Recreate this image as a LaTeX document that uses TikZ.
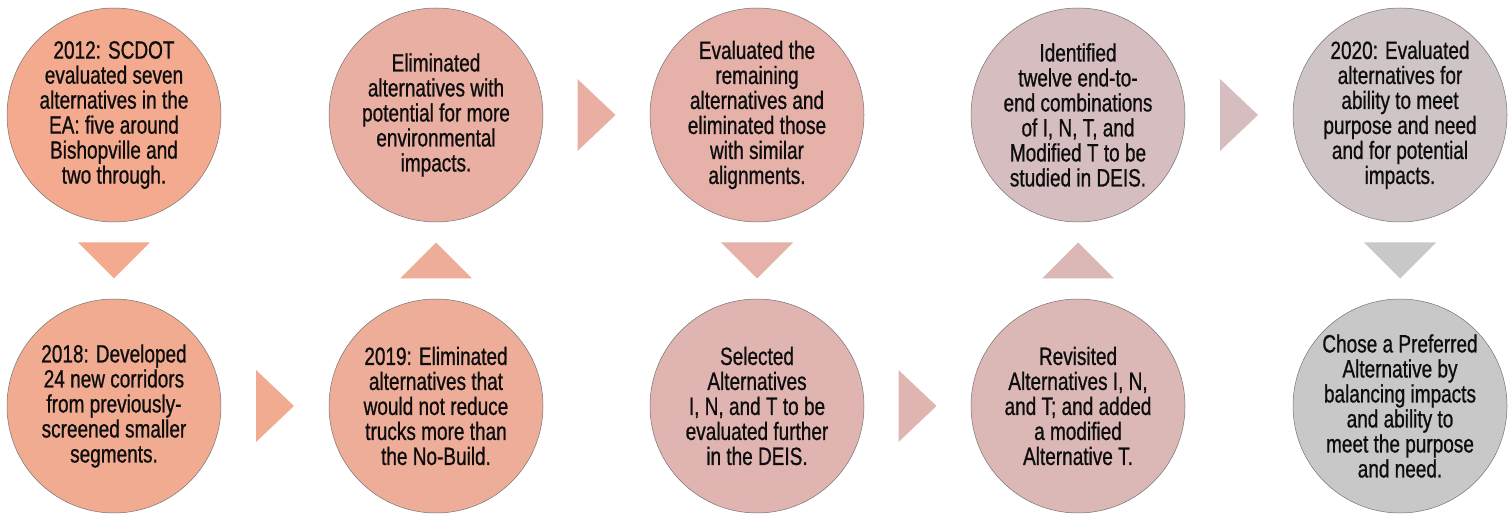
\documentclass[tikz,border=0pt]{standalone}
\usepackage{fontspec}
\setmainfont{Liberation Sans}[FakeStretch=0.76,FakeBold=0.8]
\usepackage{tikz}
\usetikzlibrary{calc}

\definecolor{c1}{HTML}{F3AA8E}
\definecolor{c2}{HTML}{F1AB91}
\definecolor{c3}{HTML}{EEAD98}
\definecolor{c4}{HTML}{E9AFA2}
\definecolor{c5}{HTML}{E5B1A9}
\definecolor{c6}{HTML}{E0B4B0}
\definecolor{c7}{HTML}{DBB7B6}
\definecolor{c8}{HTML}{D6BDBF}
\definecolor{c9}{HTML}{D0C5C6}
\definecolor{c10}{HTML}{C8C8C8}

\begin{document}
\begin{tikzpicture}[x=1pt,y=1pt,every node/.style={circle, draw=black!55, line width=0.5pt, minimum size=214pt, inner sep=0pt, align=center, text=black!95, font=\fontsize{25}{25}\selectfont}]
\useasboundingbox (0,0) rectangle (1509,514);

\node[fill=c1] (s1) at (114,399) {2012: SCDOT\\evaluated seven\\alternatives in the\\EA: five around\\Bishopville and\\two through.};
\node[fill=c2] (s2) at (114,108) {2018: Developed\\24 new corridors\\from previously-\\screened smaller\\segments.};
\node[fill=c3] (s3) at (436,108) {2019: Eliminated\\alternatives that\\would not reduce\\trucks more than\\the No-Build.};
\node[fill=c4] (s4) at (436,399) {Eliminated\\alternatives with\\potential for more\\environmental\\impacts.};
\node[fill=c5] (s5) at (757,399) {Evaluated the\\remaining\\alternatives and\\eliminated those\\with similar\\alignments.};
\node[fill=c6] (s6) at (757,108) {Selected\\Alternatives\\I, N, and T to be\\evaluated further\\in the DEIS.};
\node[fill=c7] (s7) at (1078,108) {Revisited\\Alternatives I, N,\\and T; and added\\a modified\\Alternative T.};
\node[fill=c8] (s8) at (1078,399) {Identified\\twelve end-to-\\end combinations\\of I, N, T, and\\Modified T to be\\studied in DEIS.};
\node[fill=c9] (s9) at (1400,399) {2020: Evaluated\\alternatives for\\ability to meet\\purpose and need\\and for potential\\impacts.};
\node[fill=c10] (s10) at (1400,108) {Chose a Preferred\\Alternative by\\balancing impacts\\and ability to\\meet the purpose\\and need.};

% down / up arrows between rows
\fill[c1] ($(s1)!0.5!(s2)$) +(-36,18) -- +(36,18) -- +(0,-18) -- cycle;
\fill[c3] ($(s3)!0.5!(s4)$) +(-36,-18) -- +(36,-18) -- +(0,18) -- cycle;
\fill[c5] ($(s5)!0.5!(s6)$) +(-36,18) -- +(36,18) -- +(0,-18) -- cycle;
\fill[c7] ($(s7)!0.5!(s8)$) +(-36,-18) -- +(36,-18) -- +(0,18) -- cycle;
\fill[c10] ($(s9)!0.5!(s10)$) +(-36,18) -- +(36,18) -- +(0,-18) -- cycle;

% right arrows
\fill[c2] ($(s2)!0.5!(s3)$) +(-19,36) -- +(19,0) -- +(-19,-36) -- cycle;
\fill[c4] ($(s4)!0.5!(s5)$) +(-19,36) -- +(19,0) -- +(-19,-36) -- cycle;
\fill[c6] ($(s6)!0.5!(s7)$) +(-19,36) -- +(19,0) -- +(-19,-36) -- cycle;
\fill[c8] ($(s8)!0.5!(s9)$) +(-19,36) -- +(19,0) -- +(-19,-36) -- cycle;
\end{tikzpicture}
\end{document}
